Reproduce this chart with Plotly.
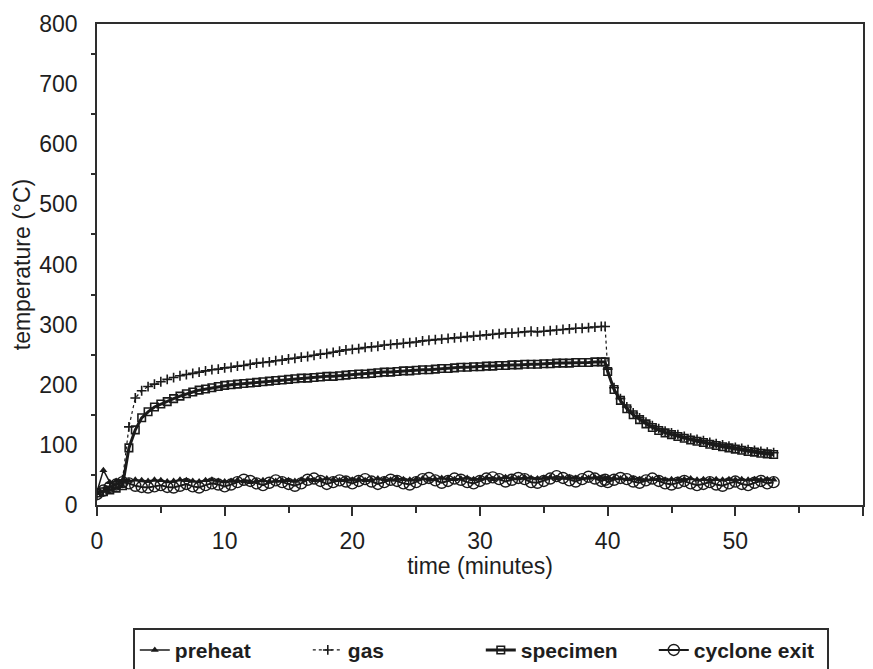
import plotly.graph_objects as go

# sample times (minutes)
time_min = [
    0, 0.5, 1, 1.5, 2, 2.5, 3, 3.5, 4, 4.5,
    5, 5.5, 6, 6.5, 7, 7.5, 8, 8.5, 9, 9.5,
    10, 10.5, 11, 11.5, 12, 12.5, 13, 13.5, 14, 14.5,
    15, 15.5, 16, 16.5, 17, 17.5, 18, 18.5, 19, 19.5,
    20, 20.5, 21, 21.5, 22, 22.5, 23, 23.5, 24, 24.5,
    25, 25.5, 26, 26.5, 27, 27.5, 28, 28.5, 29, 29.5,
    30, 30.5, 31, 31.5, 32, 32.5, 33, 33.5, 34, 34.5,
    35, 35.5, 36, 36.5, 37, 37.5, 38, 38.5, 39, 39.5,
    39.8,
    40, 40.5, 41, 41.5, 42, 42.5, 43, 43.5, 44, 44.5,
    45, 45.5, 46, 46.5, 47, 47.5, 48, 48.5, 49, 49.5,
    50, 50.5, 51, 51.5, 52, 52.5, 53,
]

preheat = [
    22, 58, 38, 40, 41, 40, 42, 41, 40, 42,
    41, 39, 40, 42, 41, 40, 39, 41, 42, 40,
    39, 40, 41, 39, 38, 40, 41, 39, 40, 41,
    41, 40, 42, 43, 41, 42, 44, 42, 41, 43,
    42, 43, 41, 42, 44, 43, 42, 44, 43, 42,
    43, 44, 42, 43, 45, 44, 43, 44, 45, 43,
    44, 45, 43, 44, 46, 45, 44, 46, 45, 44,
    45, 46, 44, 45, 46, 45, 44, 45, 46, 45,
    45,
    44, 45, 44, 43, 44, 43, 42, 43, 44, 42,
    43, 42, 43, 44, 42, 43, 42, 43, 42, 43,
    42, 43, 42, 43, 42, 43, 42,
]

gas = [
    18, 22, 30, 35, 42, 130, 178, 190, 197, 201,
    205, 209, 212, 215, 217, 219, 221, 223, 225, 226,
    228, 229, 231, 232, 234, 236, 237, 238, 240, 241,
    243, 244, 246, 247, 249, 251, 252, 254, 256, 258,
    259, 260, 262, 263, 264, 266, 267, 268, 269, 270,
    271, 273, 274, 275, 276, 277, 278, 279, 280, 281,
    282, 283, 284, 285, 286, 286, 287, 288, 289, 288,
    289, 290, 291, 292, 293, 294, 294, 295, 296, 297,
    297,
    226, 195, 177, 163, 153, 145, 138, 132, 127, 123,
    120, 117, 114, 111, 109, 107, 104, 102, 100, 98,
    96, 94, 92, 91, 89, 88, 87,
]

specimen = [
    20, 22, 25, 28, 32, 95, 125, 145, 155, 163,
    168, 172, 177, 181, 185, 188, 191, 193, 195, 197,
    199, 200, 201, 202, 203, 204, 205, 206, 207, 208,
    209, 210, 211, 211, 212, 213, 214, 214, 215, 216,
    217, 218, 218, 219, 220, 221, 221, 222, 223, 223,
    224, 225, 225, 226, 227, 227, 228, 229, 229, 230,
    230, 231, 231, 232, 232, 233, 233, 234, 234, 234,
    235, 235, 236, 236, 236, 237, 237, 237, 238, 238,
    238,
    222, 192, 174, 160, 150, 142, 135, 129, 124, 120,
    117, 114, 111, 108, 106, 104, 101, 99, 97, 95,
    93, 91, 89, 88, 86, 85, 84,
]

cyclone_exit = [
    18, 24, 30, 34, 38, 36, 32, 30, 29, 31,
    33, 30, 29, 32, 35, 31, 29, 33, 36, 34,
    31, 34, 38, 42, 40, 36, 33, 37, 41, 38,
    35, 32, 36, 42, 44, 40, 35, 38, 41, 39,
    36, 40, 43, 39, 35, 38, 42, 40, 36, 34,
    38, 43, 45, 41, 37, 40, 44, 42, 38, 36,
    40, 44, 46, 43, 39, 42, 45, 43, 38, 37,
    40, 44, 48, 45, 41, 39, 43, 47, 44, 40,
    42,
    38, 42, 45, 43, 39, 37, 41, 44, 40, 36,
    34, 37, 40, 36, 33, 35, 38, 34, 32, 36,
    39, 35, 33, 37, 40, 36, 38,
]

x_labels = [0, 10, 20, 30, 40, 50, 60]
y_labels = [0, 100, 200, 300, 400, 500, 600, 700, 800]
y_cross_ticks = [50, 150, 250, 350, 450, 550, 650, 750]
x_minor_ticks = [5, 15, 25, 35, 45, 55]

INK = "#1a1a1a"
AXIS = "#2e2e2e"
FAMILY = "Liberation Sans, Arial, sans-serif"
TICK_FONT = dict(family=FAMILY, size=23, color="#1e1e1e")
TITLE_FONT = dict(family=FAMILY, size=23, color="#1e1e1e")

fig = go.Figure()

fig.add_trace(go.Scatter(
    x=time_min, y=preheat, name="preheat", mode="lines+markers",
    line=dict(color=INK, width=1.5),
    marker=dict(symbol="triangle-up", size=7, color=INK),
))
fig.add_trace(go.Scatter(
    x=time_min, y=gas, name="gas", mode="lines+markers",
    line=dict(color=INK, width=1.2, dash="dot"),
    marker=dict(symbol="cross-thin", size=7, line=dict(color=INK, width=1.6)),
))
fig.add_trace(go.Scatter(
    x=time_min, y=specimen, name="specimen", mode="lines+markers",
    line=dict(color=INK, width=3),
    marker=dict(symbol="square-open", size=7.5, color=INK, line=dict(width=1.6)),
))
fig.add_trace(go.Scatter(
    x=time_min, y=cyclone_exit, name="cyclone exit", mode="lines+markers",
    line=dict(color=INK, width=2),
    marker=dict(symbol="circle-open", size=11, color=INK, line=dict(width=1.4)),
))

axis_line = dict(showline=True, linecolor=AXIS, linewidth=1.8, showgrid=False, zeroline=False)

fig.update_layout(
    width=873, height=669,
    margin=dict(l=97, r=10, t=24, b=164, autoexpand=False),
    paper_bgcolor="white", plot_bgcolor="white",
    font=TICK_FONT,
    showlegend=True,
    xaxis=dict(
        **axis_line, mirror=True, range=[0, 60],
        tickmode="array", tickvals=x_labels, tickfont=TICK_FONT,
        ticks="outside", ticklen=9, tickwidth=1.8, tickcolor=AXIS,
        ticklabelstandoff=5,
        minor=dict(tickvals=x_minor_ticks, ticks="outside", ticklen=6,
                   tickwidth=1.6, tickcolor=AXIS),
        title=dict(text="time (minutes)", standoff=5, font=TITLE_FONT),
    ),
    xaxis2=dict(
        overlaying="x", anchor="y", side="bottom", range=[0, 60],
        showline=False, showgrid=False, zeroline=False,
        tickmode="array", tickvals=x_labels[1:-1], showticklabels=False,
        ticks="inside", ticklen=9, tickwidth=1.8, tickcolor=AXIS,
        minor=dict(tickvals=x_minor_ticks, ticks="inside", ticklen=6,
                   tickwidth=1.6, tickcolor=AXIS),
    ),
    yaxis=dict(
        **axis_line, mirror=True, range=[0, 800],
        tickmode="array", tickvals=y_labels, ticks="", tickfont=TICK_FONT,
        ticklabelstandoff=13,
        minor=dict(tickvals=y_cross_ticks, ticks="outside", ticklen=4,
                   tickwidth=1.6, tickcolor=AXIS),
        title=dict(text="temperature (°C)", standoff=2, font=TITLE_FONT),
    ),
    yaxis2=dict(
        overlaying="y", anchor="x", side="left", range=[0, 800],
        showline=False, showgrid=False, zeroline=False,
        tickmode="array", tickvals=y_cross_ticks, showticklabels=False,
        ticks="inside", ticklen=4, tickwidth=1.6, tickcolor=AXIS,
    ),
    legend=dict(
        orientation="h",
        xref="container", yref="container",
        x=133 / 873, xanchor="left",
        y=1 - 628 / 669, yanchor="top",
        bgcolor="white", bordercolor=AXIS, borderwidth=1.8,
        entrywidth=128, entrywidthmode="pixels",
        font=dict(family=FAMILY, size=21, color="#1e1e1e", weight="bold"),
        traceorder="normal",
    ),
)

fig.write_html("out.html")
